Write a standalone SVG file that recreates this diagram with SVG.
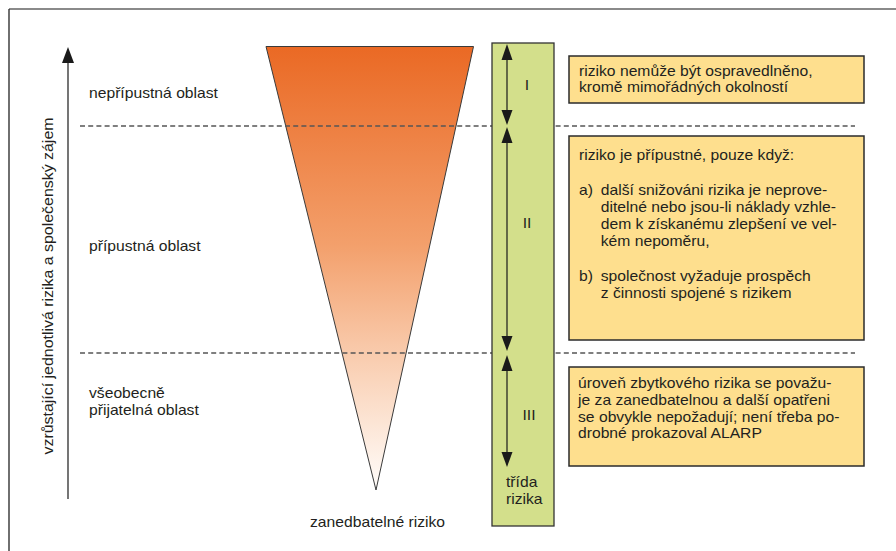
<svg xmlns="http://www.w3.org/2000/svg" width="896" height="551" viewBox="0 0 896 551">
<style>
text{font-family:"Liberation Sans",Arial,sans-serif;font-size:14px;fill:#231f20}
.box{fill:#fedf8e;stroke:#2b2b2b;stroke-width:1.5}
.dash{stroke:#555;stroke-width:1.4;stroke-dasharray:5 3.2;fill:none}
.ar{stroke:#1a1a1a;stroke-width:1.2;fill:none}
.ah{fill:#1a1a1a}
</style>
<defs>
<linearGradient id="g" x1="0" y1="46" x2="0" y2="490" gradientUnits="userSpaceOnUse">
<stop offset="0" stop-color="#ea6924"/>
<stop offset="0.45" stop-color="#f3a06c"/>
<stop offset="0.75" stop-color="#fad5bc"/>
<stop offset="1" stop-color="#fffdfb"/>
</linearGradient>
</defs>
<rect width="896" height="551" fill="#fff"/>
<g id="frame">
<line x1="9" y1="9" x2="896" y2="9" stroke="#8a8a8a" stroke-width="2"/>
<line x1="9" y1="9" x2="9" y2="551" stroke="#333" stroke-width="1.4"/>
</g>
<g id="triangle">
<polygon points="266,46.5 473.5,46.5 376,490" fill="url(#g)" stroke="#3a3a3a" stroke-width="1"/>
</g>
<g id="connectors">
<line class="dash" x1="80" y1="126" x2="855" y2="126"/>
<line class="dash" x1="80" y1="353" x2="855" y2="353"/>
<line class="ar" x1="68" y1="60" x2="68" y2="499"/>
<polygon class="ah" points="68,47 62,63 74,63"/>
</g>
<g id="class-bar">
<rect x="492" y="43" width="62" height="483" fill="#d3df8b" stroke="#333" stroke-width="1.3"/>
<g id="arrows">
<line class="ar" x1="507" y1="58" x2="507" y2="112"/>
<polygon class="ah" points="507,44 501.5,60 512.5,60"/>
<polygon class="ah" points="507,125 501.5,110 512.5,110"/>
<line class="ar" x1="507" y1="141" x2="507" y2="338"/>
<polygon class="ah" points="507,127 501.5,143 512.5,143"/>
<polygon class="ah" points="507,351 501.5,336 512.5,336"/>
<line class="ar" x1="507" y1="369" x2="507" y2="454"/>
<polygon class="ah" points="507,355 501.5,371 512.5,371"/>
<polygon class="ah" points="507,467 501.5,452 512.5,452"/>
</g>
<text x="527" y="90" text-anchor="middle" transform="translate(527 0) scale(1.12 1) translate(-527 0)">I</text>
<text x="527" y="228" text-anchor="middle" transform="translate(527 0) scale(1.12 1) translate(-527 0)">II</text>
<text x="529" y="420" text-anchor="middle" transform="translate(529 0) scale(1.12 1) translate(-529 0)">III</text>
<text transform="translate(506 486.7) scale(1.12 1)"><tspan x="0" y="0">třída</tspan><tspan x="0" y="17.3">rizika</tspan></text>
</g>
<g id="box1">
<rect class="box" x="569" y="56" width="295" height="47"/>
<text transform="translate(579 76) scale(1.12 1)"><tspan x="0" y="0">riziko nemůže být ospravedlněno,</tspan><tspan x="0" y="16.5">kromě mimořádných okolností</tspan></text>
</g>
<g id="box2">
<rect class="box" x="569" y="136" width="295" height="204"/>
<text transform="translate(579 159.5) scale(1.12 1)"><tspan x="0" y="0">riziko je přípustné, pouze když:</tspan><tspan x="0" y="36">a)</tspan><tspan x="19.4" y="36">další snižováni rizika je neprove-</tspan><tspan x="19.4" y="53">ditelné nebo jsou-li náklady vzhle-</tspan><tspan x="19.4" y="70">dem k získanému zlepšení ve vel-</tspan><tspan x="19.4" y="86.8">kém nepoměru,</tspan><tspan x="0" y="122">b)</tspan><tspan x="19.4" y="122">společnost vyžaduje prospěch</tspan><tspan x="19.4" y="138.8">z činnosti spojené s rizikem</tspan></text>
</g>
<g id="box3">
<rect class="box" x="569" y="367" width="295" height="99"/>
<text transform="translate(578 388) scale(1.12 1)"><tspan x="0" y="0">úroveň zbytkového rizika se považu-</tspan><tspan x="0" y="16.8">je za zanedbatelnou a další opatřeni</tspan><tspan x="0" y="33.6">se obvykle nepožadují; není třeba po-</tspan><tspan x="0" y="50.4">drobné prokazoval ALARP</tspan></text>
</g>
<g id="labels">
<text transform="translate(89 97.5) scale(1.12 1)">nepřípustná oblast</text>
<text transform="translate(89 250.5) scale(1.12 1)">přípustná oblast</text>
<text transform="translate(89 398) scale(1.12 1)"><tspan x="0" y="0">všeobecně</tspan><tspan x="0" y="16.8">přijatelná oblast</tspan></text>
<text transform="translate(310 526.7) scale(1.12 1)">zanedbatelné riziko</text>
</g>
<g id="axis-label">
<text transform="translate(53 286) rotate(-90)" text-anchor="middle" textLength="337" lengthAdjust="spacingAndGlyphs">vzrůstající jednotlivá rizika a společenský zájem</text>
</g>
</svg>
